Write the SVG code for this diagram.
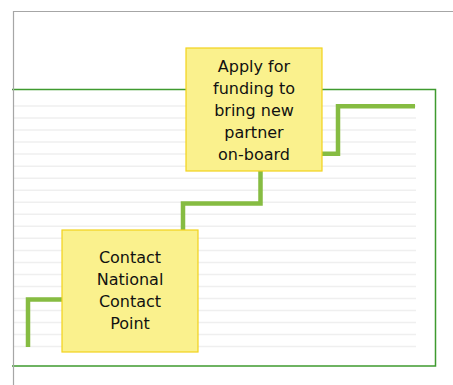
<svg xmlns="http://www.w3.org/2000/svg" width="453" height="385" viewBox="0 0 453 385">
  <style>
    .rule { stroke: #efefef; stroke-width: 1.5; fill: none; }
    .frame { stroke: #a6a6a6; stroke-width: 1.2; fill: none; }
    .panel { stroke: #3f9a2f; stroke-width: 1.5; fill: none; }
    .step { stroke: #86bc42; stroke-width: 4.5; fill: none; stroke-linejoin: miter; }
    .note { fill: #faf18d; stroke: #f2d31c; stroke-width: 1.2; }
    .label { font-family: "DejaVu Sans", sans-serif; font-size: 16px; fill: #111; text-anchor: middle; }
  </style>
  <rect width="453" height="385" fill="#ffffff"/>

  <!-- ruled lines -->
  <g id="rules">
    <path class="rule" d="M14,106H416 M14,118H416 M14,130H416 M14,142H416 M14,154.1H416 M14,166.2H416 M14,178.2H416 M14,190.2H416 M14,202.2H416 M14,214.3H416 M14,226.3H416 M14,238.3H416 M14,250.4H416 M14,262.4H416 M14,274.4H416 M14,286.5H416 M14,298.5H416 M14,310.5H416 M14,322.5H416 M14,334.6H416 M14,346.6H416"/>
  </g>

  <!-- outer frame and panel -->
  <path class="panel" d="M12,89.5H435.5V366H12"/>
  <path class="frame" d="M13.5,385V11.5H453"/>

  <!-- staircase connector -->
  <g id="connectors">
    <path class="step" d="M28,347V299.5H183V203.5H260.5V153.8H338V106.3H415"/>
  </g>

  <g id="node-contact">
    <rect class="note" x="62" y="230" width="136" height="122"/>
    <text class="label" x="130" y="263">Contact</text>
    <text class="label" x="130" y="285">National</text>
    <text class="label" x="130" y="307">Contact</text>
    <text class="label" x="130" y="329">Point</text>
  </g>

  <g id="node-funding">
    <rect class="note" x="186" y="48" width="136" height="123"/>
    <text class="label" x="254" y="72">Apply for</text>
    <text class="label" x="254" y="94">funding to</text>
    <text class="label" x="254" y="116">bring new</text>
    <text class="label" x="254" y="138">partner</text>
    <text class="label" x="254" y="160">on-board</text>
  </g>
</svg>
